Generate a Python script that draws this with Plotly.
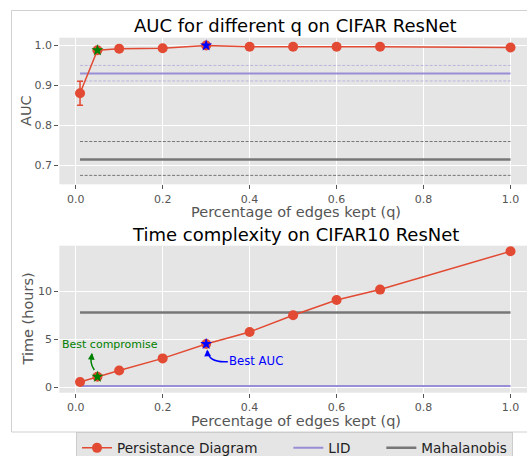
import plotly.graph_objects as go

# ---------------- data ----------------
q_values = [0.01, 0.05, 0.1, 0.2, 0.3, 0.4, 0.5, 0.6, 0.7, 1.0]
auc_pd = [0.880, 0.988, 0.992, 0.993, 1.000, 0.997, 0.997, 0.997, 0.997, 0.995]
auc_pd_err = [0.030, 0.002, 0.001, 0.001, 0.0, 0.0, 0.0, 0.0, 0.0, 0.0]
time_pd = [0.56, 1.1, 1.75, 3.02, 4.52, 5.78, 7.52, 9.12, 10.2, 14.2]

lid_auc, lid_auc_low, lid_auc_high = 0.930, 0.911, 0.950
maha_auc, maha_auc_low, maha_auc_high = 0.714, 0.674, 0.759
lid_time = 0.15
maha_time = 7.8

best_comp_q, best_comp_auc, best_comp_time = 0.05, 0.988, 1.1
best_auc_q, best_auc_auc, best_auc_time = 0.3, 1.000, 4.52

xticks = [0.0, 0.2, 0.4, 0.6, 0.8, 1.0]

RED = "#E24A33"
PURPLE = "#988ED5"
GRAY = "#777777"
FONT = "DejaVu Sans"
W, H = 527, 456
PAD = "\u00a0" * 6

def px_x(p):
    return p / W

def px_y(p):
    return 1 - p / H

fig = go.Figure()
q_span = [q_values[0], q_values[-1]]

# ---------- top plot ----------
for lo_hi, col in [((lid_auc_low, lid_auc_high), "rgba(152,142,213,0.55)"),
                   ((maha_auc_low, maha_auc_high), "rgba(90,90,90,0.8)")]:
    for v in lo_hi:
        fig.add_trace(go.Scatter(x=q_span, y=[v, v], mode="lines", xaxis="x", yaxis="y",
                                 line=dict(color=col, width=1, dash="3px,1.6px"),
                                 showlegend=False, hoverinfo="skip"))
fig.add_trace(go.Scatter(x=q_span, y=[lid_auc, lid_auc], mode="lines", xaxis="x", yaxis="y",
                         line=dict(color=PURPLE, width=2), name="LID" + PAD, legendrank=2))
fig.add_trace(go.Scatter(x=q_span, y=[maha_auc, maha_auc], mode="lines", xaxis="x", yaxis="y",
                         line=dict(color=GRAY, width=2.5), name="Mahalanobis", legendrank=3))
fig.add_trace(go.Scatter(x=q_values, y=auc_pd, mode="lines+markers", xaxis="x", yaxis="y",
                         line=dict(color=RED, width=1.5),
                         marker=dict(color=RED, size=10),
                         error_y=dict(type="data", array=auc_pd_err, color=RED, thickness=1.5, width=3),
                         name="Persistance Diagram" + PAD, legendrank=1))
fig.add_trace(go.Scatter(x=[best_comp_q], y=[best_comp_auc], mode="markers", xaxis="x", yaxis="y",
                         marker=dict(symbol="star", color="green", size=9, line=dict(width=0)),
                         showlegend=False))
fig.add_trace(go.Scatter(x=[best_auc_q], y=[best_auc_auc], mode="markers", xaxis="x", yaxis="y",
                         marker=dict(symbol="star", color="blue", size=9, line=dict(width=0)),
                         showlegend=False))

# ---------- bottom plot ----------
fig.add_trace(go.Scatter(x=q_span, y=[lid_time, lid_time], mode="lines", xaxis="x2", yaxis="y2",
                         line=dict(color=PURPLE, width=2), showlegend=False))
fig.add_trace(go.Scatter(x=q_span, y=[maha_time, maha_time], mode="lines", xaxis="x2", yaxis="y2",
                         line=dict(color=GRAY, width=2.5), showlegend=False))
fig.add_trace(go.Scatter(x=q_values, y=time_pd, mode="lines+markers", xaxis="x2", yaxis="y2",
                         line=dict(color=RED, width=1.5),
                         marker=dict(color=RED, size=10), showlegend=False))
fig.add_trace(go.Scatter(x=[best_comp_q], y=[best_comp_time], mode="markers", xaxis="x2", yaxis="y2",
                         marker=dict(symbol="star", color="green", size=9, line=dict(width=0)),
                         showlegend=False))
fig.add_trace(go.Scatter(x=[best_auc_q], y=[best_auc_time], mode="markers", xaxis="x2", yaxis="y2",
                         marker=dict(symbol="star", color="blue", size=9, line=dict(width=0)),
                         showlegend=False))

axis_common = dict(showgrid=True, gridcolor="white", gridwidth=1, zeroline=False,
                   ticks="outside", ticklen=4, tickcolor="#555555", tickwidth=1,
                   tickfont=dict(family=FONT, size=11, color="#555555"), showline=False)

x_dom = [px_x(59.3), 1]
x_rng = [-0.0377, 1.0379]
fig.update_layout(
    width=W, height=H,
    margin=dict(l=0, r=0, t=0, b=0, autoexpand=False),
    paper_bgcolor="white", plot_bgcolor="#E5E5E5",
    font=dict(family=FONT, color="#555555"),
    xaxis=dict(domain=x_dom, range=x_rng, anchor="y", tickvals=xticks, tickformat=".1f", **axis_common),
    yaxis=dict(domain=[px_y(184.3), px_y(37.7)], range=[0.6516, 1.0196], anchor="x",
               tickvals=[0.7, 0.8, 0.9, 1.0], tickformat=".1f", **axis_common),
    xaxis2=dict(domain=x_dom, range=x_rng, anchor="y2", tickvals=xticks, tickformat=".1f", **axis_common),
    yaxis2=dict(domain=[px_y(392.7), px_y(245.7)], range=[-0.56, 14.78], anchor="x2",
                tickvals=[0, 5, 10], **axis_common),
    legend=dict(orientation="h", x=px_x(76), y=px_y(431.5), xanchor="left", yanchor="top",
                bgcolor="#E5E5E5", bordercolor="#CCCCCC", borderwidth=1,
                font=dict(family=FONT, size=13.6, color="#222222")),
    showlegend=True,
)

# figure frame
fig.add_shape(type="rect", xref="paper", yref="paper",
              x0=px_x(11.5), x1=1.02, y0=px_y(432), y1=px_y(10.5),
              line=dict(color="#D0D0D0", width=1), layer="below")

# curved arrows
fig.add_shape(type="path", xref="x2", yref="y2",
              path="M 0.0428,1.81 Q 0.0306,2.6 0.0375,3.45",
              line=dict(color="green", width=1.5))
fig.add_shape(type="path", xref="x2", yref="y2",
              path="M 0.350,2.68 Q 0.3064,2.54 0.3035,3.75",
              line=dict(color="blue", width=1.5))

anns = []
anns.append(dict(x=0.0375, y=3.6, ax=0.0362, ay=3.0, xref="x2", yref="y2", axref="x2", ayref="y2",
                 showarrow=True, arrowhead=2, arrowsize=0.9, arrowwidth=1.5, arrowcolor="green", text=""))
anns.append(dict(x=0.3025, y=3.95, ax=0.3032, ay=3.4, xref="x2", yref="y2", axref="x2", ayref="y2",
                 showarrow=True, arrowhead=2, arrowsize=0.9, arrowwidth=1.5, arrowcolor="blue", text=""))
anns.append(dict(x=0.0795, y=4.48, xref="x2", yref="y2", text="Best compromise", showarrow=False,
                 font=dict(family=FONT, size=11, color="green"), xanchor="center", yanchor="middle"))
anns.append(dict(x=0.414, y=2.72, xref="x2", yref="y2", text="Best AUC", showarrow=False,
                 font=dict(family=FONT, size=11.7, color="blue"), xanchor="center", yanchor="middle"))

# titles and axis labels
cx = px_x(295.6)
anns.append(dict(x=cx, y=px_y(26), xref="paper", yref="paper", text="AUC for different q on CIFAR ResNet",
                 showarrow=False, font=dict(family=FONT, size=18, color="black"), yanchor="middle"))
anns.append(dict(x=cx, y=px_y(234.5), xref="paper", yref="paper", text="Time complexity on CIFAR10 ResNet",
                 showarrow=False, font=dict(family=FONT, size=18, color="black"), yanchor="middle"))
anns.append(dict(x=cx, y=px_y(212.5), xref="paper", yref="paper", text="Percentage of edges kept (q)",
                 showarrow=False, font=dict(family=FONT, size=14.5, color="#555555"), yanchor="middle"))
anns.append(dict(x=cx, y=px_y(421), xref="paper", yref="paper", text="Percentage of edges kept (q)",
                 showarrow=False, font=dict(family=FONT, size=14.5, color="#555555"), yanchor="middle"))
anns.append(dict(x=px_x(26), y=px_y(111), xref="paper", yref="paper", text="AUC", textangle=-90,
                 showarrow=False, font=dict(family=FONT, size=14.5, color="#555555"),
                 xanchor="center", yanchor="middle"))
anns.append(dict(x=px_x(27.5), y=px_y(319), xref="paper", yref="paper", text="Time (hours)", textangle=-90,
                 showarrow=False, font=dict(family=FONT, size=14.5, color="#555555"),
                 xanchor="center", yanchor="middle"))
fig.update_layout(annotations=anns)

fig.write_html("out.html")
